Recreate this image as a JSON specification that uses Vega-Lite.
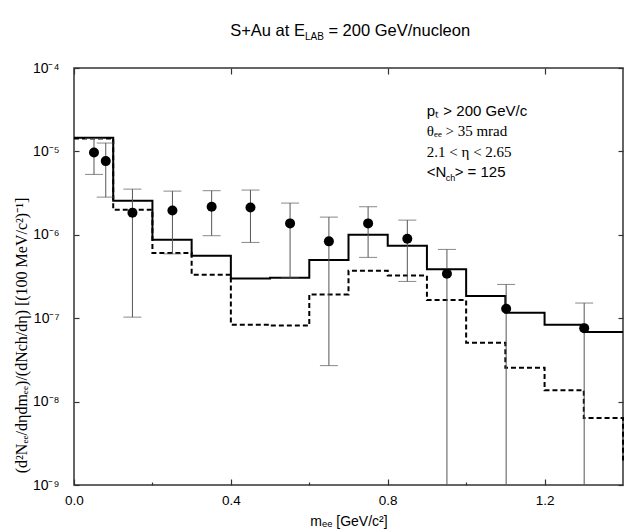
{
  "$schema": "https://vega.github.io/schema/vega-lite/v6.json",
  "width": 549,
  "height": 417,
  "autosize": {"type": "none"},
  "padding": {"left": 74, "top": 68, "right": 5, "bottom": 44},
  "background": "white",
  "config": {
    "view": {"stroke": "#333", "strokeWidth": 1.5},
    "axis": {"grid": false, "domain": false, "labelFlush": false, "labelFont": "Liberation Sans", "labelFontSize": 13.5, "labelColor": "black", "tickColor": "#333", "tickWidth": 1.2, "titleColor": "black", "titleFontWeight": "normal"}
  },
  "datasets": {
    "solid": [
      {"m": 0.0, "v": 1.46e-5}, {"m": 0.1, "v": 2.56e-6}, {"m": 0.2, "v": 8.73e-7}, {"m": 0.3, "v": 5.61e-7},
      {"m": 0.4, "v": 2.99e-7}, {"m": 0.5, "v": 3.06e-7}, {"m": 0.6, "v": 4.98e-7}, {"m": 0.7, "v": 1.0e-6},
      {"m": 0.8, "v": 7.4e-7}, {"m": 0.9, "v": 3.85e-7}, {"m": 1.0, "v": 1.84e-7}, {"m": 1.1, "v": 1.16e-7},
      {"m": 1.2, "v": 8.35e-8}, {"m": 1.3, "v": 6.83e-8}, {"m": 1.4, "v": 6.83e-8}
    ],
    "dashed": [
      {"m": 0.0, "v": 1.43e-5}, {"m": 0.1, "v": 2.0e-6}, {"m": 0.2, "v": 6.04e-7}, {"m": 0.3, "v": 3.32e-7},
      {"m": 0.4, "v": 8.37e-8}, {"m": 0.5, "v": 8.15e-8}, {"m": 0.6, "v": 1.93e-7}, {"m": 0.7, "v": 3.71e-7},
      {"m": 0.8, "v": 3.24e-7}, {"m": 0.9, "v": 1.65e-7}, {"m": 1.0, "v": 5.09e-8}, {"m": 1.1, "v": 2.55e-8},
      {"m": 1.2, "v": 1.37e-8}, {"m": 1.3, "v": 6.34e-9}, {"m": 1.4, "v": 1.97e-9}
    ],
    "points": [
      {"m": 0.051, "y": 9.7e-6, "lo": 5.3e-6, "hi": 1.43e-5},
      {"m": 0.081, "y": 7.65e-6, "lo": 2.83e-6, "hi": 1.26e-5},
      {"m": 0.149, "y": 1.84e-6, "lo": 1.03e-7, "hi": 3.53e-6},
      {"m": 0.251, "y": 1.96e-6, "lo": 5.9e-7, "hi": 3.34e-6},
      {"m": 0.351, "y": 2.17e-6, "lo": 9.75e-7, "hi": 3.38e-6},
      {"m": 0.450, "y": 2.13e-6, "lo": 8.1e-7, "hi": 3.44e-6},
      {"m": 0.551, "y": 1.37e-6, "lo": 3.05e-7, "hi": 2.4e-6},
      {"m": 0.650, "y": 8.34e-7, "lo": 2.7e-8, "hi": 1.63e-6},
      {"m": 0.750, "y": 1.37e-6, "lo": 5.36e-7, "hi": 2.17e-6},
      {"m": 0.850, "y": 8.97e-7, "lo": 2.76e-7, "hi": 1.5e-6},
      {"m": 0.951, "y": 3.42e-7, "lo": 1e-9, "hi": 6.68e-7},
      {"m": 1.102, "y": 1.30e-7, "lo": 1e-9, "hi": 2.54e-7},
      {"m": 1.301, "y": 7.6e-8, "lo": 1e-9, "hi": 1.52e-7}
    ],
    "titleLeft": [{"m": 0.5888, "y": 2.39e-4, "t": "S+Au at E"}],
    "titleRight": [{"m": 0.6487, "y": 2.39e-4, "t": "= 200 GeV/nucleon"}],
    "titleSub": [{"m": 0.5888, "y": 2.17e-4, "t": "LAB"}],
    "notesSans": [
      {"m": 0.8998, "y": 2.63e-5, "t": "pₜ > 200 GeV/c"},
      {"m": 0.8998, "y": 4.88e-6, "t": "<N"},
      {"m": 0.9707, "y": 4.88e-6, "t": "> = 125"}
    ],
    "notesSerif": [
      {"m": 0.8998, "y": 1.51e-5, "t": "θₑₑ > 35 mrad"},
      {"m": 0.8998, "y": 8.59e-6, "t": "2.1 < η < 2.65"}
    ],
    "notesSub": [{"m": 0.9478, "y": 4.45e-6, "t": "ch"}]
  },
  "layer": [
    {
      "data": {"name": "solid"},
      "mark": {"type": "line", "interpolate": "step-after", "color": "black", "strokeWidth": 2},
      "encoding": {
        "x": {"field": "m", "type": "quantitative", "scale": {"domain": [0, 1.4], "nice": false, "zero": false},
          "axis": {"orient": "bottom", "values": [0, 0.4, 0.8, 1.2], "format": ".1f", "tickSize": -6, "labelPadding": 14,
            "title": "mₑₑ [GeV/c²]", "titleFont": "Liberation Sans", "titleFontSize": 14, "titleY": 40, "titleBaseline": "alphabetic"}},
        "y": {"field": "v", "type": "quantitative", "scale": {"type": "log", "domain": [1e-9, 1e-4], "nice": false},
          "axis": {"orient": "left", "values": [1e-9, 1e-8, 1e-7, 1e-6, 1e-5, 1e-4], "tickSize": -5, "labelPadding": 20, "labelFontSize": 14,
            "labelExpr": "datum.value < 3e-9 ? '10⁻⁹' : datum.value < 3e-8 ? '10⁻⁸' : datum.value < 3e-7 ? '10⁻⁷' : datum.value < 3e-6 ? '10⁻⁶' : datum.value < 3e-5 ? '10⁻⁵' : '10⁻⁴'",
            "title": "(d²Nₑₑ/dηdmₑₑ)/(dNch/dη) [(100 MeV/c²)⁻¹]", "titleFont": "Liberation Serif", "titleFontSize": 16,
            "titleAngle": -90, "titleX": -53, "titleY": 267, "titleAlign": "center", "titleBaseline": "middle"}}
      }
    },
    {
      "data": {"name": "dashed"},
      "mark": {"type": "line", "interpolate": "step-after", "color": "black", "strokeWidth": 2, "strokeDash": [5, 3]},
      "encoding": {
        "x": {"field": "m", "type": "quantitative", "scale": {"domain": [0, 1.4], "nice": false, "zero": false},
          "axis": {"orient": "bottom", "values": [0.2, 0.6, 1.0], "labels": false, "tickSize": -3, "title": null}},
        "y": {"field": "v", "type": "quantitative", "scale": {"type": "log", "domain": [1e-9, 1e-4], "nice": false},
          "axis": {"orient": "right", "values": [1e-9, 1e-8, 1e-7, 1e-6, 1e-5, 1e-4], "labels": false, "tickSize": -5, "title": null}}
      }
    },
    {
      "data": {"name": "points"},
      "mark": {"type": "rule", "color": "#555", "strokeWidth": 1},
      "encoding": {
        "x": {"field": "m", "type": "quantitative", "scale": {"domain": [0, 1.4], "nice": false, "zero": false},
          "axis": {"orient": "top", "values": [0, 0.4, 0.8, 1.2], "labels": false, "tickSize": -6, "title": null}},
        "y": {"field": "lo", "type": "quantitative", "scale": {"type": "log", "domain": [1e-9, 1e-4], "nice": false}, "axis": null},
        "y2": {"field": "hi"}
      }
    },
    {
      "data": {"name": "points"},
      "mark": {"type": "tick", "orient": "horizontal", "color": "#555", "size": 18, "thickness": 1},
      "encoding": {
        "x": {"field": "m", "type": "quantitative", "scale": {"domain": [0, 1.4], "nice": false, "zero": false}, "axis": null},
        "y": {"field": "hi", "type": "quantitative", "scale": {"type": "log", "domain": [1e-9, 1e-4], "nice": false}, "axis": null}
      }
    },
    {
      "data": {"name": "points"},
      "transform": [{"filter": "datum.lo > 2e-9"}],
      "mark": {"type": "tick", "orient": "horizontal", "color": "#555", "size": 18, "thickness": 1},
      "encoding": {
        "x": {"field": "m", "type": "quantitative", "scale": {"domain": [0, 1.4], "nice": false, "zero": false}, "axis": null},
        "y": {"field": "lo", "type": "quantitative", "scale": {"type": "log", "domain": [1e-9, 1e-4], "nice": false}, "axis": null}
      }
    },
    {
      "data": {"name": "points"},
      "mark": {"type": "point", "shape": "circle", "filled": true, "color": "black", "size": 100, "opacity": 1},
      "encoding": {
        "x": {"field": "m", "type": "quantitative", "scale": {"domain": [0, 1.4], "nice": false, "zero": false}, "axis": null},
        "y": {"field": "y", "type": "quantitative", "scale": {"type": "log", "domain": [1e-9, 1e-4], "nice": false}, "axis": null}
      }
    },
    {
      "data": {"name": "titleLeft"},
      "mark": {"type": "text", "font": "Liberation Sans", "fontSize": 16.5, "color": "black", "baseline": "alphabetic", "align": "right"},
      "encoding": {
        "x": {"field": "m", "type": "quantitative", "scale": {"domain": [0, 1.4], "nice": false, "zero": false}, "axis": null},
        "y": {"field": "y", "type": "quantitative", "scale": {"type": "log", "domain": [1e-9, 1e-4], "nice": false}, "axis": null},
        "text": {"field": "t"}
      }
    },
    {
      "data": {"name": "titleRight"},
      "mark": {"type": "text", "font": "Liberation Sans", "fontSize": 16.5, "color": "black", "baseline": "alphabetic", "align": "left"},
      "encoding": {
        "x": {"field": "m", "type": "quantitative", "scale": {"domain": [0, 1.4], "nice": false, "zero": false}, "axis": null},
        "y": {"field": "y", "type": "quantitative", "scale": {"type": "log", "domain": [1e-9, 1e-4], "nice": false}, "axis": null},
        "text": {"field": "t"}
      }
    },
    {
      "data": {"name": "titleSub"},
      "mark": {"type": "text", "font": "Liberation Sans", "fontSize": 10, "color": "black", "baseline": "alphabetic", "align": "left"},
      "encoding": {
        "x": {"field": "m", "type": "quantitative", "scale": {"domain": [0, 1.4], "nice": false, "zero": false}, "axis": null},
        "y": {"field": "y", "type": "quantitative", "scale": {"type": "log", "domain": [1e-9, 1e-4], "nice": false}, "axis": null},
        "text": {"field": "t"}
      }
    },
    {
      "data": {"name": "notesSans"},
      "mark": {"type": "text", "font": "Liberation Sans", "fontSize": 15, "color": "black", "baseline": "alphabetic", "align": "left"},
      "encoding": {
        "x": {"field": "m", "type": "quantitative", "scale": {"domain": [0, 1.4], "nice": false, "zero": false}, "axis": null},
        "y": {"field": "y", "type": "quantitative", "scale": {"type": "log", "domain": [1e-9, 1e-4], "nice": false}, "axis": null},
        "text": {"field": "t"}
      }
    },
    {
      "data": {"name": "notesSerif"},
      "mark": {"type": "text", "font": "Liberation Serif", "fontSize": 15, "color": "black", "baseline": "alphabetic", "align": "left"},
      "encoding": {
        "x": {"field": "m", "type": "quantitative", "scale": {"domain": [0, 1.4], "nice": false, "zero": false}, "axis": null},
        "y": {"field": "y", "type": "quantitative", "scale": {"type": "log", "domain": [1e-9, 1e-4], "nice": false}, "axis": null},
        "text": {"field": "t"}
      }
    },
    {
      "data": {"name": "notesSub"},
      "mark": {"type": "text", "font": "Liberation Sans", "fontSize": 9, "color": "black", "baseline": "alphabetic", "align": "left"},
      "encoding": {
        "x": {"field": "m", "type": "quantitative", "scale": {"domain": [0, 1.4], "nice": false, "zero": false}, "axis": null},
        "y": {"field": "y", "type": "quantitative", "scale": {"type": "log", "domain": [1e-9, 1e-4], "nice": false}, "axis": null},
        "text": {"field": "t"}
      }
    }
  ],
  "resolve": {"axis": {"x": "independent", "y": "independent"}}
}
